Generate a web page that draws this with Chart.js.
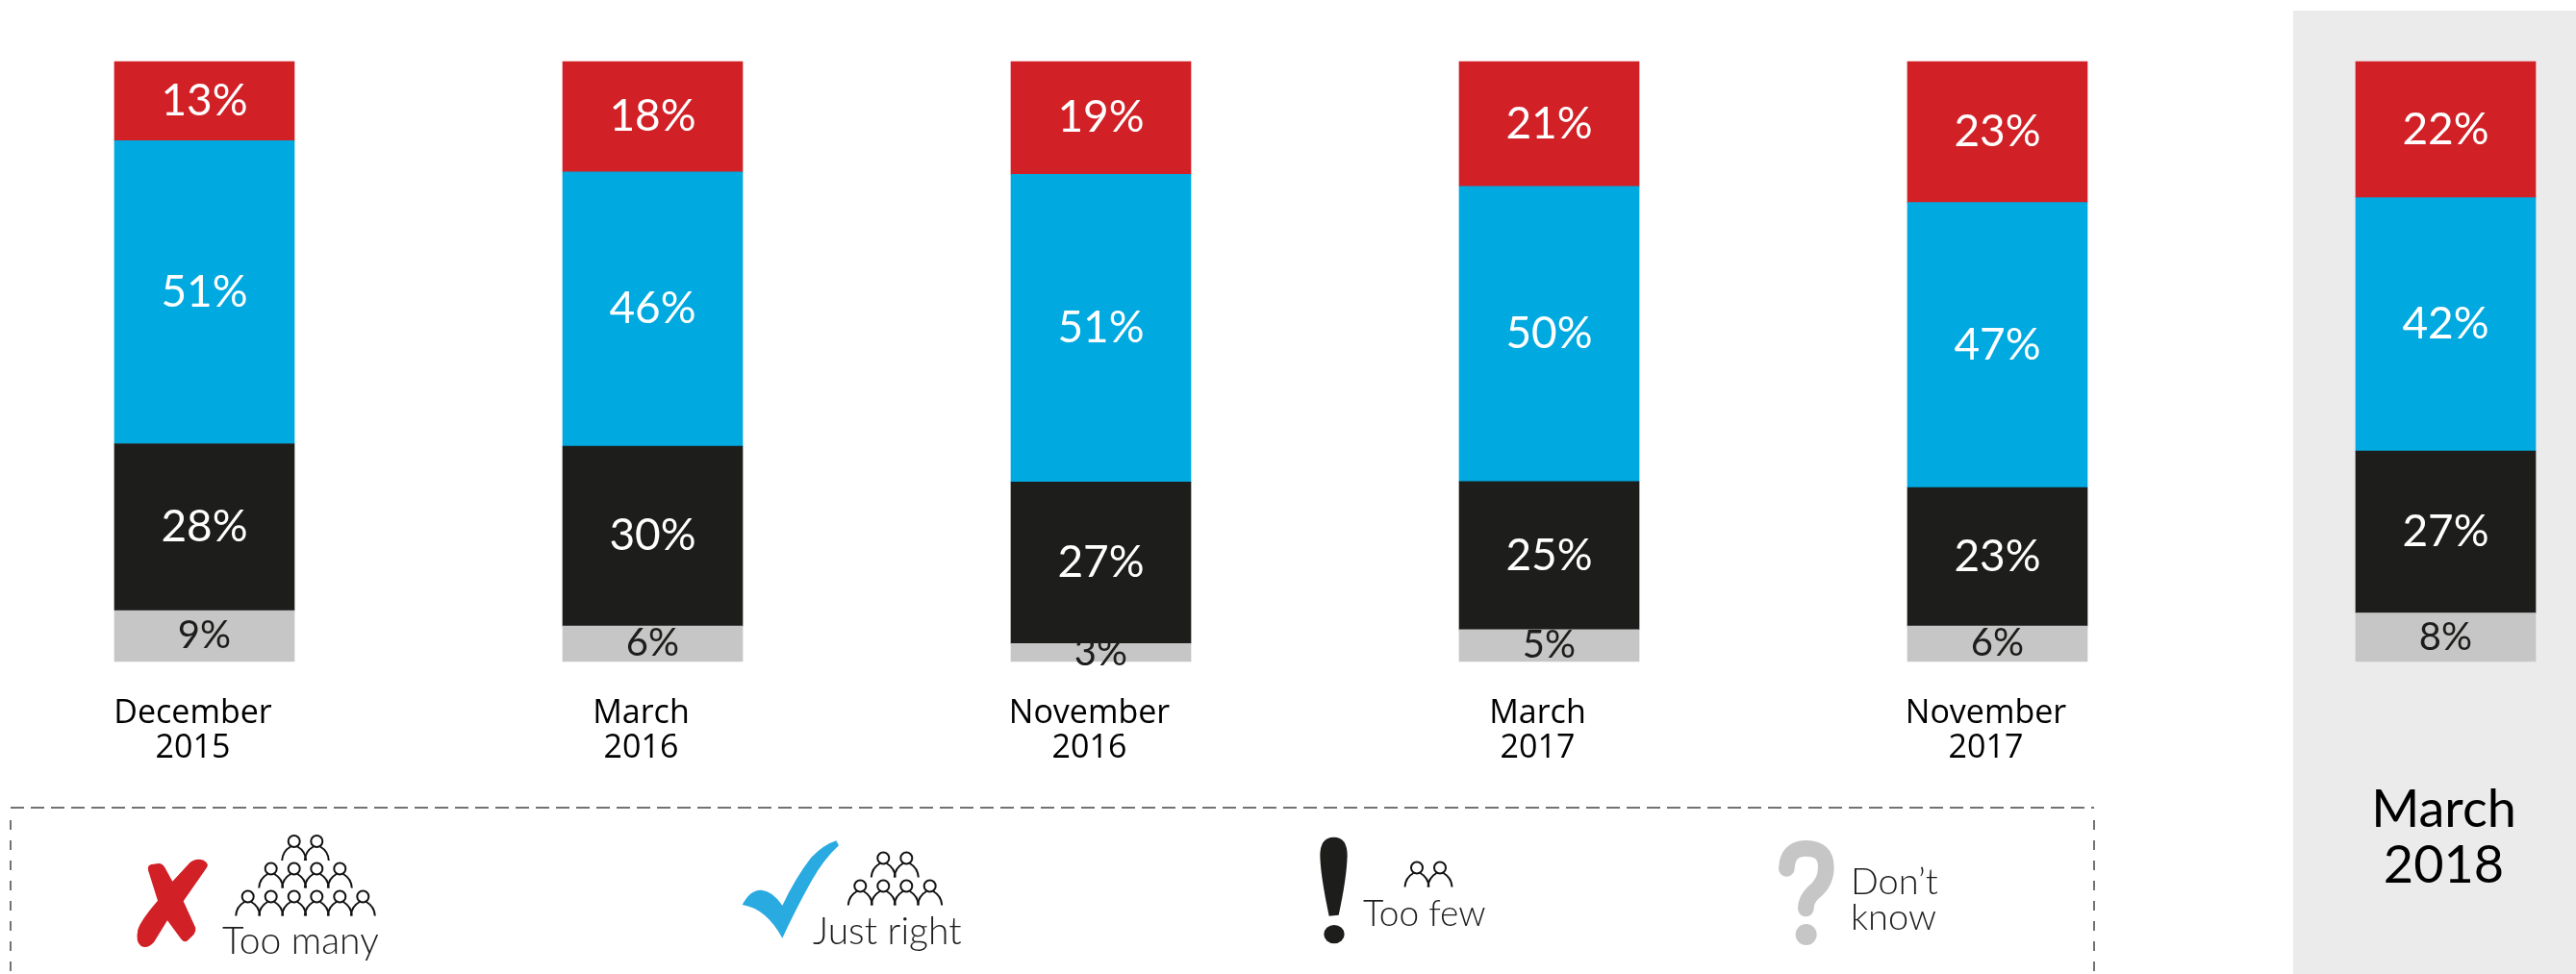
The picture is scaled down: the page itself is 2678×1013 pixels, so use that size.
<!DOCTYPE html>
<html>
<head>
<meta charset="utf-8">
<title>Too many, just right, too few</title>
<script src="https://cdn.jsdelivr.net/npm/chart.js@4"></script>
<style>
    html, body { margin: 0; padding: 0; background: #fff; overflow: hidden; }
    #wrap { position: relative; width: 2678px; height: 1013px; }
    #panel { position: absolute; left: 2384px; top: 11px; width: 294px; height: 1002px; background: #ecebec; }
    #chart { position: absolute; left: 0; top: 0; }
    #legend { position: absolute; left: 0; top: 0; }
    #legend text { font-family: Lato, sans-serif; font-weight: 300; font-size: 39px; fill: #1d1d1d; }
    .person { fill: none; stroke: #111; stroke-width: 2; }
</style>
</head>
<body>
<div id="wrap">
    <div id="panel"></div>
    <canvas id="chart" width="2678" height="1013"></canvas>
    <svg id="legend" width="2678" height="1013" viewBox="0 0 2678 1013">
        <defs>
            <g id="person" class="person">
                <circle cx="0" cy="0" r="6"></circle>
                <path d="M-12.5 20 C-12 12 -8 8 -3.5 5.5 M12.5 20 C12 12 8 8 3.5 5.5"></path>
            </g>
        </defs>
        <path d="M11 840 H2177" fill="none" stroke="#444" stroke-width="1.5" stroke-dasharray="14 7"></path>
        <path d="M11 853 V1013 M2177 853 V1013" fill="none" stroke="#444" stroke-width="1.5" stroke-dasharray="10 11"></path>

        <!-- too many -->
        <path transform="translate(120 850) scale(0.3333)" fill="#d12026" d="M102 165 Q98 147 118 146 L135 144 Q148 144 155 158 L178 200 L232 142 Q250 126 275 134 Q295 145 283 160 L212 262 L250 345 Q252 355 245 365 L225 385 Q215 392 205 380 L162 322 L120 390 Q100 412 80 402 Q62 390 70 350 Q80 320 132 260 Z"></path>
        <use href="#person" x="305.7" y="875"></use><use href="#person" x="329.3" y="875"></use>
        <use href="#person" x="281.7" y="903.5"></use><use href="#person" x="305.7" y="903.5"></use><use href="#person" x="329.3" y="903.5"></use><use href="#person" x="353.3" y="903.5"></use>
        <use href="#person" x="257.7" y="932.5"></use><use href="#person" x="281.7" y="932.5"></use><use href="#person" x="305.7" y="932.5"></use><use href="#person" x="329.3" y="932.5"></use><use href="#person" x="353.3" y="932.5"></use><use href="#person" x="377.3" y="932.5"></use>
        <text x="231" y="992">Too many</text>

        <!-- just right -->
        <path transform="translate(760 850) scale(0.3333)" fill="#29abe2" d="M35 273 Q60 225 95 227 Q130 230 160 275 Q200 190 250 125 Q290 85 328 73 L336 88 Q290 130 250 200 Q200 290 160 377 Q110 285 35 273 Z"></path>
        <use href="#person" x="918.3" y="892.5"></use><use href="#person" x="942.3" y="892.5"></use>
        <use href="#person" x="894.3" y="921.5"></use><use href="#person" x="918.3" y="921.5"></use><use href="#person" x="942.3" y="921.5"></use><use href="#person" x="966.7" y="921.5"></use>
        <text x="845" y="982">Just right</text>

        <!-- too few -->
        <g transform="translate(1350 850) scale(0.3333)" fill="#1d1d1b">
            <path d="M110 62 Q152 62 152 120 Q150 190 125 305 L95 308 Q68 180 67 120 Q67 62 110 62 Z"></path>
            <ellipse cx="111" cy="365" rx="32" ry="29"></ellipse>
        </g>
        <use href="#person" x="1473" y="902.5"></use><use href="#person" x="1497" y="902.5"></use>
        <text x="1417" y="963" style="font-size:37px">Too few</text>

        <!-- don't know -->
        <g transform="translate(1820 850) scale(0.3333)">
            <path d="M112 160 Q115 97 172 97 Q235 97 235 155 Q235 205 195 235 Q172 258 172 285" fill="none" stroke="#c6c6c6" stroke-width="50" stroke-linecap="round"></path>
            <circle cx="173" cy="366" r="33" fill="#c6c6c6"></circle>
        </g>
        <text x="1924" y="930" style="font-size:38px">Don’t</text>
        <text x="1924" y="967" style="font-size:38px">know</text>
    </svg>
</div>
<script>
const months = ['December', 'March', 'November', 'March', 'November', 'March'];
const years = ['2015', '2016', '2016', '2017', '2017', '2018'];

// printed percentages
const tooManyLabels = [13, 18, 19, 21, 23, 22];
const justRightLabels = [51, 46, 51, 50, 47, 42];
const tooFewLabels = [28, 30, 27, 25, 23, 27];
const dontKnowLabels = [9, 6, 3, 5, 6, 8];

// segment heights (printed numbers are rounded and don't always add to 100)
const tooMany = [13.2, 18.4, 18.8, 20.8, 23.5, 22.7];
const justRight = [50.5, 45.7, 51.3, 49.2, 47.5, 42.2];
const tooFew = [27.8, 30.0, 26.9, 24.7, 23.1, 27.0];
const dontKnow = [8.5, 5.9, 3.0, 5.3, 5.9, 8.1];

const makeSeries = (label, data, color, printed, textColor, size) => ({
    label, data, printed, textColor, size,
    backgroundColor: color,
    barThickness: 187,
    clip: false
});

// percentages inside the segments
const segmentLabels = {
    id: 'segmentLabels',
    afterDatasetsDraw(chart) {
        const { ctx } = chart;
        ctx.save();
        ctx.textAlign = 'center';
        ctx.textBaseline = 'middle';
        chart.data.datasets.forEach((ds, i) => {
            ctx.fillStyle = ds.textColor;
            ctx.font = `400 ${ds.size}px Lato, sans-serif`;
            chart.getDatasetMeta(i).data.forEach((bar, j) => {
                const p = bar.getCenterPoint();
                ctx.fillText(ds.printed[j] + '%', p.x, p.y);
            });
        });
        ctx.restore();
    }
};

// last column has its own bigger label further down
const lastLabel = {
    id: 'lastLabel',
    afterDraw(chart) {
        const { ctx } = chart;
        const last = months.length - 1;
        const x = chart.scales.x.getPixelForValue(last) - 2;
        ctx.save();
        ctx.fillStyle = '#000';
        ctx.textAlign = 'center';
        ctx.textBaseline = 'middle';
        ctx.font = '400 54px Lato, sans-serif';
        ctx.fillText(months[last], x, 843);
        ctx.fillText(years[last], x, 901);
        ctx.restore();
    }
};

new Chart(document.getElementById('chart').getContext('2d'), {
    type: 'bar',
    data: {
        labels: months.map((m, i) => [m, years[i]]),
        datasets: [
            makeSeries("Don't know", dontKnow, '#c6c6c6', dontKnowLabels, '#1d1d1b', 40),
            makeSeries('Too few', tooFew, '#1d1d1b', tooFewLabels, '#fff', 46),
            makeSeries('Just right', justRight, '#00a9df', justRightLabels, '#fff', 46),
            makeSeries('Too many', tooMany, '#d12026', tooManyLabels, '#fff', 46)
        ]
    },
    options: {
        responsive: false,
        animation: false,
        layout: { padding: { left: 212.5, right: 135.5, top: 64, bottom: 0 } },
        plugins: { legend: { display: false }, tooltip: { enabled: false } },
        scales: {
            x: {
                stacked: true,
                offset: false,
                grid: { display: false },
                border: { display: false },
                afterFit(scale) { scale.height = 325; },
                ticks: {
                    autoSkip: false,
                    maxRotation: 0,
                    padding: 28,
                    labelOffset: -12,
                    color: '#000',
                    font: { family: '"Open Sans", sans-serif', size: 34, lineHeight: 1.06 },
                    callback(value, index) {
                        return index === months.length - 1 ? '' : this.getLabelForValue(value);
                    }
                }
            },
            y: { stacked: true, min: 0, max: 100, display: false }
        }
    },
    plugins: [segmentLabels, lastLabel]
});
</script>
</body>
</html>
